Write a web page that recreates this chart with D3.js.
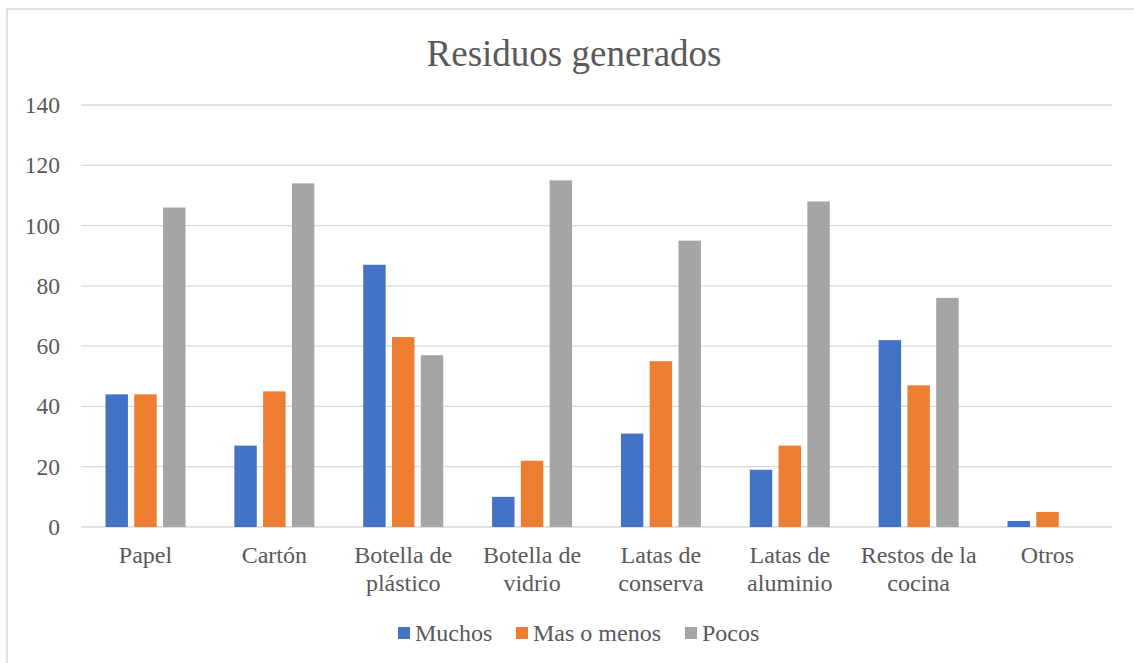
<!DOCTYPE html>
<html>
<head>
<meta charset="utf-8">
<script src="https://cdn.jsdelivr.net/npm/d3@7"></script>
<style>
  body { margin: 0; background: #fff; }
  svg { display: block; }
</style>
</head>
<body>
<div id="chart"></div>
<script>
var categories = [
    ["Papel"], ["Cartón"], ["Botella de", "plástico"], ["Botella de", "vidrio"],
    ["Latas de", "conserva"], ["Latas de", "aluminio"], ["Restos de la", "cocina"], ["Otros"]
];
var seriesNames = ["Muchos", "Mas o menos", "Pocos"];
var seriesColors = ["#4472c4", "#ed7d31", "#a5a5a5"];
var muchos = [44, 27, 87, 10, 31, 19, 62, 2];
var masOMenos = [44, 45, 63, 22, 55, 27, 47, 5];
var pocos = [106, 114, 57, 115, 95, 108, 76, 0];
var yTicks = [0, 20, 40, 60, 80, 100, 120, 140];

var width = 1134, height = 663;
var font = "'Liberation Serif', 'Times New Roman', serif";
var textColor = "#595959";
var gridColor = "#d9d9d9";

var svg = d3.select("#chart").append("svg")
    .attr("width", width)
    .attr("height", height);

// chart border (right and bottom edges fall outside the picture)
svg.append("rect")
    .attr("x", 7).attr("y", 9)
    .attr("width", 1140).attr("height", 670)
    .attr("fill", "white")
    .attr("stroke", gridColor)
    .attr("stroke-width", 1.5);

svg.append("text")
    .attr("x", 574).attr("y", 66)
    .attr("text-anchor", "middle")
    .attr("font-family", font)
    .attr("font-size", 37)
    .attr("fill", textColor)
    .text("Residuos generados");

var plotLeft = 81, plotRight = 1112;

var y = d3.scaleLinear()
    .domain([0, 140])
    .range([527, 105]);

var x0 = d3.scaleBand()
    .domain(d3.range(categories.length))
    .range([plotLeft, plotRight])
    .paddingInner(0.379)
    .paddingOuter(0.19);

var x1 = d3.scaleBand()
    .domain(d3.range(seriesNames.length))
    .range([0, x0.bandwidth()])
    .paddingInner(0.22);

// gridlines
svg.append("g").selectAll("line")
    .data(yTicks)
    .join("line")
    .attr("x1", plotLeft).attr("x2", plotRight)
    .attr("y1", d => y(d)).attr("y2", d => y(d))
    .attr("stroke", gridColor)
    .attr("stroke-width", 1.3);

svg.append("g").selectAll("text")
    .data(yTicks)
    .join("text")
    .attr("x", 60)
    .attr("y", d => y(d) + 8)
    .attr("text-anchor", "end")
    .attr("font-family", font)
    .attr("font-size", 23.5)
    .attr("fill", textColor)
    .text(d => d);

var values = [muchos, masOMenos, pocos];

values.forEach(function(vals, s) {
    svg.append("g").selectAll("rect")
        .data(vals)
        .join("rect")
        .attr("x", (d, i) => x0(i) + x1(s))
        .attr("y", d => y(d))
        .attr("width", x1.bandwidth())
        .attr("height", d => y(0) - y(d))
        .attr("fill", seriesColors[s]);
});

// category labels
var labels = svg.append("g").selectAll("text")
    .data(categories)
    .join("text")
    .attr("text-anchor", "middle")
    .attr("font-family", font)
    .attr("font-size", 24)
    .attr("fill", textColor);

labels.selectAll("tspan")
    .data((d, i) => d.map(t => ({ t: t, i: i })))
    .join("tspan")
    .attr("x", d => x0(d.i) + x0.bandwidth() / 2)
    .attr("y", (d, j) => 563 + j * 28)
    .text(d => d.t);

// legend
var legendX = [398, 516, 685];
var legend = svg.append("g").selectAll("g")
    .data(seriesNames)
    .join("g")
    .attr("transform", (d, i) => "translate(" + legendX[i] + ",0)");

legend.append("rect")
    .attr("x", 0).attr("y", 627)
    .attr("width", 12).attr("height", 12)
    .attr("fill", (d, i) => seriesColors[i]);

legend.append("text")
    .attr("x", 17).attr("y", 641)
    .attr("font-family", font)
    .attr("font-size", 24)
    .attr("fill", textColor)
    .text(d => d);
</script>
</body>
</html>
